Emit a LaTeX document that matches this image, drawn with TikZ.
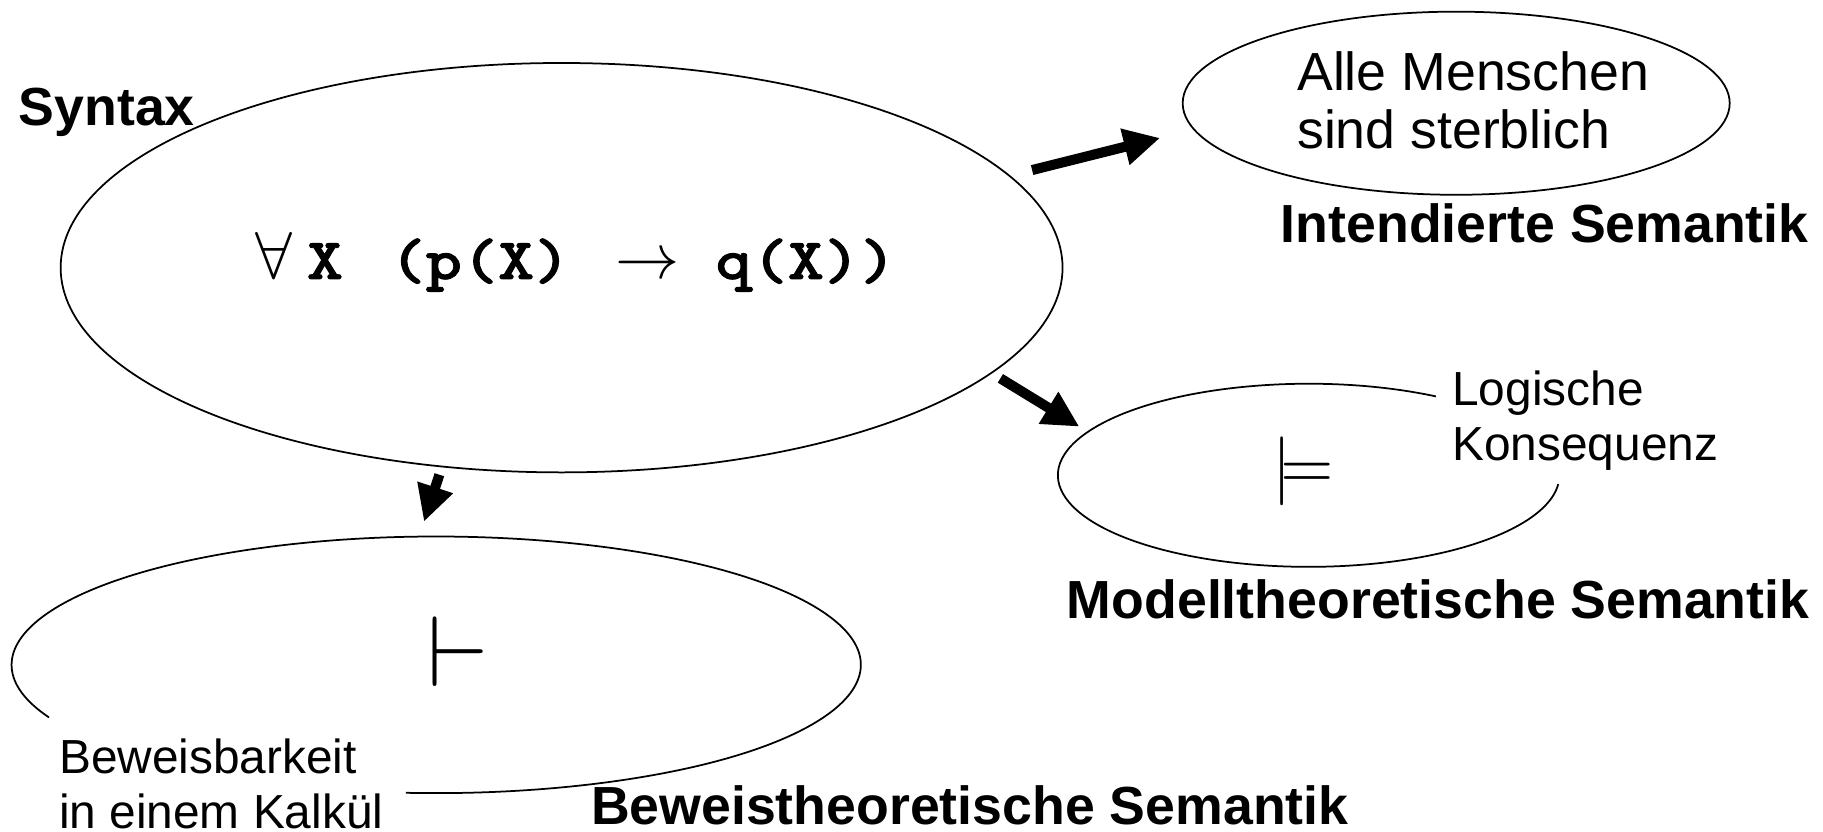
\documentclass[tikz,border=0pt]{standalone}
\usepackage{graphicx}
\usepackage{fontspec}
\setmainfont{Liberation Sans}
\newfontfamily\formulafont{lmmonolt10-bold}[Extension=.otf, FakeStretch=1.18, FakeBold=1.5]
\usetikzlibrary{shapes.geometric,arrows.meta}
\newcommand{\bigsym}[2]{\scalebox{#1}{\fontsize{10}{12}\selectfont$#2$}}
\begin{document}
\begin{tikzpicture}[x=1pt,y=1pt,
  ell/.style={draw, line width=1.5pt, ellipse, inner sep=0pt},
  arcline/.style={line width=1.5pt},
  bigarrow/.style={line width=8.6pt, -{Triangle[length=31pt,width=30pt]}},
  titletext/.style={font=\fontsize{46}{53}\selectfont\bfseries, inner sep=0pt, anchor=base west},
  bodytext/.style={font=\fontsize{46}{49}\selectfont, inner sep=0pt, anchor=base west, align=left},
  smalltext/.style={font=\fontsize{41}{47}\selectfont, inner sep=0pt, anchor=base west, align=left},
  symtext/.style={inner sep=0pt, anchor=base west}]
\useasboundingbox (0,0) rectangle (1563,-712.5);
% ellipses
\node[ell, minimum width=859pt, minimum height=351pt] (syn) at (481.5,-229.5) {};
\node[ell, minimum width=469pt, minimum height=157pt] (int) at (1248.5,-88.5) {};
\coordinate (mod) at (1122,-407.5);
\coordinate (bew) at (374,-570);
\draw[arcline] (mod) ++(59.5:215pt and 78.5pt) arc[start angle=59.5, end angle=354.5, x radius=215pt, y radius=78.5pt];
\draw[arcline] (bew) ++(204.2:364pt and 110pt) arc[start angle=204.2, end angle=-94.1, x radius=364pt, y radius=110pt];
% formula
\node[symtext] (formula) at (218.6,-239.2) {\formulafont\fontsize{50}{60}\selectfont
  \bigsym{5.7}{\forall}\hspace{12.7pt}X \hspace{9pt}(p(X) \hspace{7.6pt}\bigsym{5.5}{\rightarrow} q(X))};
% turnstiles
\node[symtext] (vd) at (366,-589) {\bigsym{8.6}{\vdash}};
\node[symtext] (md) at (1091,-418.5) {\bigsym{5.9}{\models}};
% labels
\node[titletext] (syntax) at (16,-107.5) {Syntax};
\node[bodytext] (alle) at (1112,-127) {Alle Menschen\\sind sterblich};
\node[titletext] (intsem) at (1098,-208) {Intendierte Semantik};
\node[smalltext] (logk) at (1245,-395) {Logische\\Konsequenz};
\node[titletext] (modsem) at (914.6,-530) {Modelltheoretische Semantik};
\node[smalltext] (bewk) at (50.5,-710) {Beweisbarkeit\\in einem Kalkül};
\node[titletext] (bewsem) at (506.6,-707) {Beweistheoretische Semantik};
% arrows
\coordinate (a1s) at (884.9,-145.8);
\coordinate (a1e) at (994.6,-118.3);
\coordinate (a2s) at (857.7,-324.4);
\coordinate (a2e) at (925.4,-365.8);
\coordinate (a3s) at (376.7,-407);
\coordinate (a3e) at (363.5,-447.3);
\draw[bigarrow] (a1s) -- (a1e);
\draw[bigarrow] (a2s) -- (a2e);
\draw[bigarrow] (a3s) -- (a3e);
\end{tikzpicture}
\end{document}
